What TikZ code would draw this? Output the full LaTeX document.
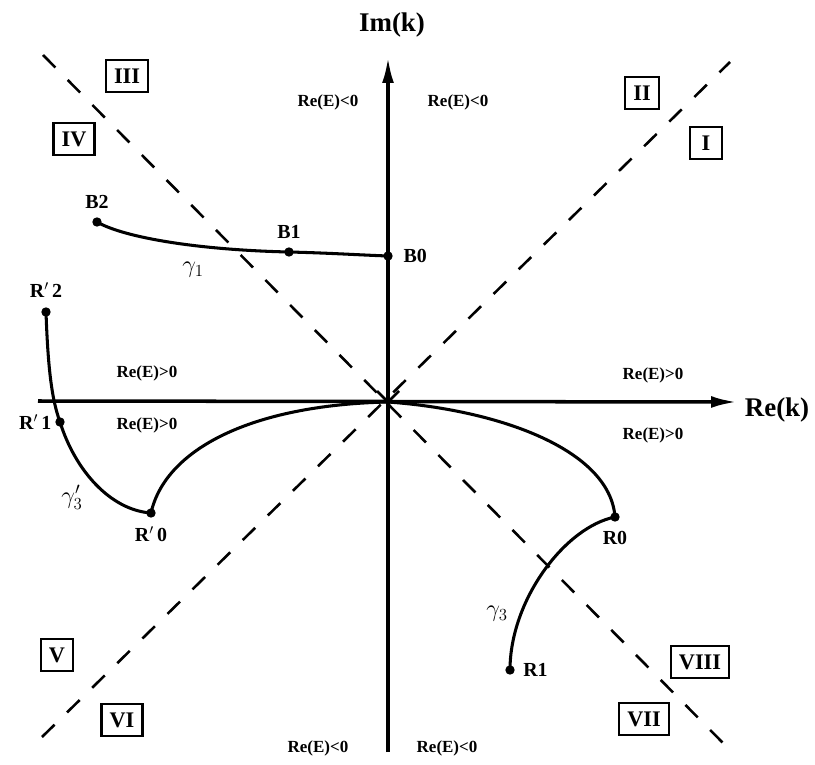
\documentclass[tikz,border=0pt]{standalone}
\usepackage{fontspec}
\setmainfont{Liberation Serif}
\usetikzlibrary{arrows.meta, positioning}

\begin{document}
\begin{tikzpicture}[x=0.03cm, y=-0.03cm]
        \tikzstyle{axis} = [line width=3pt, -{Latex[length=22pt, width=10pt]}]
        \tikzstyle{diag} = [line width=2.2pt, dash pattern=on 15pt off 15pt]
        \tikzstyle{curve} = [line width=2.6pt]
        \tikzstyle{dot} = [circle, fill=black, inner sep=0pt, minimum size=8pt]
        \tikzstyle{region} = [rectangle, draw=black, line width=2pt, minimum height=27pt, minimum width=27pt, inner xsep=7pt, font=\fontsize{19}{21}\selectfont\bfseries]
        \tikzstyle{point} = [font=\fontsize{17}{19}\selectfont\bfseries, inner sep=1pt]
        \tikzstyle{sign} = [font=\fontsize{14.5}{16}\selectfont\bfseries]
        \tikzstyle{axlabel} = [font=\fontsize{23}{25}\selectfont\bfseries]
        \tikzstyle{gamma} = [font=\fontsize{22}{24}\selectfont]
        \useasboundingbox (0,0) rectangle (815,765);

        \coordinate (o) at (388,402);
        \coordinate (xl) at (38,401);
        \coordinate (xr) at (737,402);
        \coordinate (yb) at (388,752);
        \coordinate (yt) at (388,57);
        \coordinate (nw) at (43,55);
        \coordinate (se) at (725,745);
        \coordinate (sw) at (42,737);
        \coordinate (ne) at (730,62);

        \draw [diag] (nw) -- (se);
        \draw [diag] (sw) -- (ne);
        \draw [axis] (xl) -- (xr);
        \draw [axis] (yb) -- (yt);
        \draw [line width=2.4pt] (o) ++(-11,-11) -- (o) -- ++(11,-11);

        \node [axlabel] (imk) at (392,25) {Im(k)};
        \node [axlabel] (rek) at (777,410) {Re(k)};

        \node (b2) [dot] at (97,222) {};
        \node (b1) [dot] at (289,252) {};
        \node (b0) [dot] at (388,256) {};
        \node (rp2) [dot] at (46,312) {};
        \node (rp1) [dot] at (60,422) {};
        \node (rp0) [dot] at (151,513) {};
        \node (r0) [dot] at (615,517) {};
        \node (r1) [dot] at (510,670) {};

        \draw [curve] (b2.center) .. controls (125,238) and (200,250) .. (b1.center) .. controls (330,253) and (360,255) .. (b0.center);
        \draw [curve] (rp2.center) .. controls (48,370) and (52,400) .. (rp1.center) .. controls (75,470) and (110,510) .. (rp0.center);
        \draw [curve] (rp0.center) .. controls (165,450) and (250,405) .. (o);
        \draw [curve] (o) .. controls (500,410) and (610,450) .. (r0.center);
        \draw [curve] (r0.center) .. controls (565,527) and (510,600) .. (r1.center);

        \node [point, above=6pt of b2] {B2};
        \node [point, above=6pt of b1] {B1};
        \node [point, right=8pt of b0] {B0};
        \node [point, above=7pt of rp2] {R$'$\,2};
        \node [point, left=2pt of rp1] {R$'$\,1};
        \node [point, below=6pt of rp0] {R$'$\,0};
        \node [point, below=7pt of r0] {R0};
        \node [point, right=6pt of r1] {R1};

        \node [gamma] (g1) at (193,270) {$\gamma_1$};
        \node [gamma] (g3p) at (72,497) {$\gamma'_3$};
        \node [gamma] (g3) at (497,614) {$\gamma_3$};

        \node [sign] (s1) at (328,102) {Re(E)<0};
        \node [sign] (s2) at (458,102) {Re(E)<0};
        \node [sign] (s3) at (147,373) {Re(E)>0};
        \node [sign] (s4) at (147,425) {Re(E)>0};
        \node [sign] (s5) at (653,375) {Re(E)>0};
        \node [sign] (s6) at (653,435) {Re(E)>0};
        \node [sign] (s7) at (318,748) {Re(E)<0};
        \node [sign] (s8) at (447,748) {Re(E)<0};

        \node [region] (q1) at (706,143) {I};
        \node [region] (q2) at (642,93) {II};
        \node [region] (q3) at (127,76) {III};
        \node [region] (q4) at (74,139) {IV};
        \node [region] (q5) at (57,655) {V};
        \node [region] (q6) at (122,720) {VI};
        \node [region] (q7) at (644,719) {VII};
        \node [region] (q8) at (700,662) {VIII};
\end{tikzpicture}
\end{document}
